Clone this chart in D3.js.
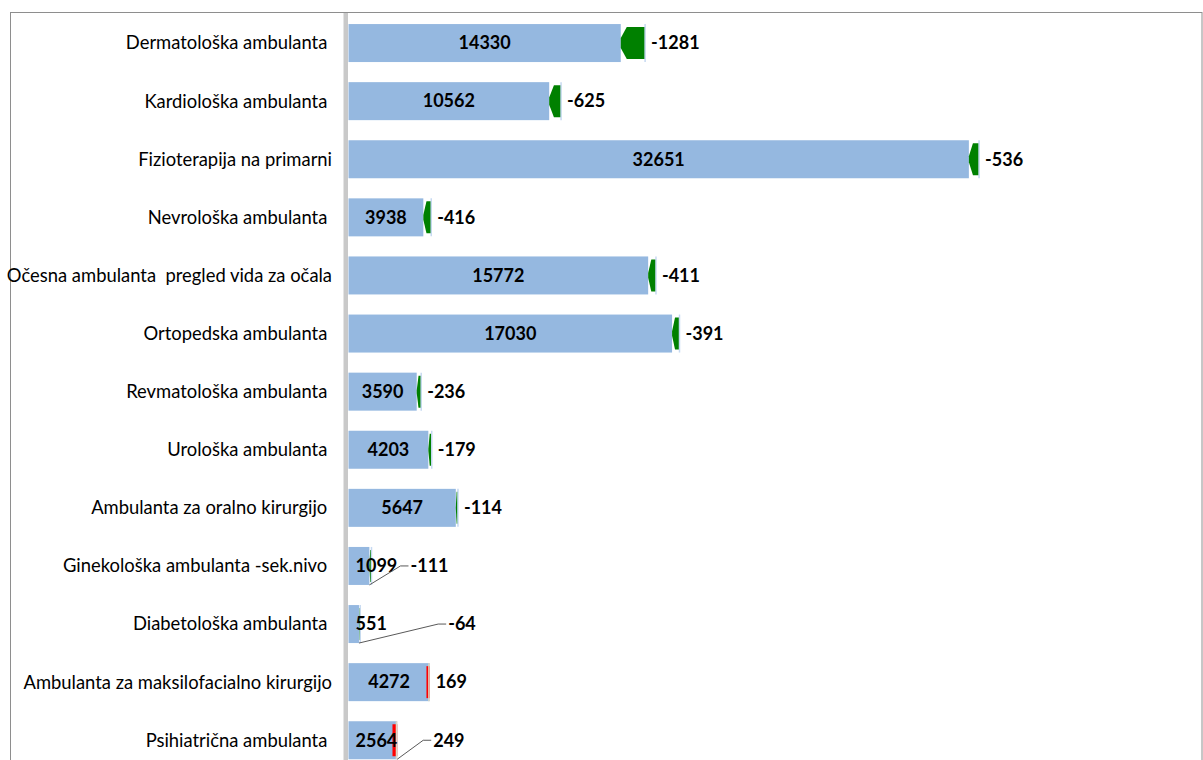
<!DOCTYPE html>
<html>
<head>
<meta charset="utf-8">
<script src="https://cdn.jsdelivr.net/npm/d3@7"></script>
<style>
  html, body { margin: 0; padding: 0; background: #fff; }
  svg { display: block; }
  text { font-family: Lato, "Open Sans", sans-serif; white-space: pre; }
</style>
</head>
<body>
<svg id="chart" width="1203" height="760"></svg>
<script>
// ---- data ----
const categories = [
  "Dermatološka ambulanta ",
  "Kardiološka ambulanta ",
  "Fizioterapija na primarni",
  "Nevrološka ambulanta ",
  "Očesna ambulanta  pregled vida za očala",
  "Ortopedska ambulanta ",
  "Revmatološka ambulanta ",
  "Urološka ambulanta ",
  "Ambulanta za oralno kirurgijo ",
  "Ginekološka ambulanta -sek.nivo ",
  "Diabetološka ambulanta ",
  "Ambulanta za maksilofacialno kirurgijo",
  "Psihiatrična ambulanta "
];
const values  = [14330, 10562, 32651, 3938, 15772, 17030, 3590, 4203, 5647, 1099, 551, 4272, 2564];
const changes = [-1281, -625, -536, -416, -411, -391, -236, -179, -114, -111, -64, 169, 249];

// ---- layout (not data) ----
const W = 1203, H = 760;
const leaderShift = {9: 33, 10: 82, 12: 30}; // displaced change labels with leader lines

const svg = d3.select("#chart");

const x = d3.scaleLinear().domain([0, 40000]).range([348.5, 348.5 + 760]);
const y = d3.scalePoint().domain(d3.range(categories.length)).range([14, 769.3]).padding(0.5);
const barH = 38, inset = 3;

// frame
svg.append("rect")
  .attr("x", 10.5).attr("y", 12.5).attr("width", 1191.5).attr("height", 800)
  .attr("fill", "none").attr("stroke", "#8e8e8e").attr("stroke-width", 1);

// vertical axis line
svg.append("rect")
  .attr("x", 343.5).attr("y", 13).attr("width", 4.5).attr("height", H)
  .attr("fill", "#c9c9c9");

const rows = categories.map((c, i) => ({
  i, cat: c, v: values[i], d: changes[i], prev: values[i] - changes[i]
}));

// category labels
svg.append("g").selectAll("text").data(rows).join("text")
  .attr("x", 332).attr("y", r => y(r.i)).attr("dy", "0.35em")
  .attr("text-anchor", "end").attr("font-size", 18.4).attr("fill", "#000")
  .text(r => r.cat);

// bars
svg.append("g").selectAll("rect").data(rows).join("rect")
  .attr("x", x(0)).attr("y", r => y(r.i) - barH / 2)
  .attr("width", r => x(r.v) - x(0)).attr("height", barH)
  .attr("fill", "#95b8e0");

// change shapes
const g2 = svg.append("g");
rows.forEach(r => {
  const cy = y(r.i), top = cy - barH / 2 + inset, bot = cy + barH / 2 - inset;
  if (r.d < 0) {
    const x1 = x(r.v), x2 = x(r.prev), w = x2 - x1;
    const h = Math.min(6, w * 0.4), k = Math.min(5, w * 0.3);
    g2.append("path")
      .attr("d", `M${x1},${cy - k} L${x1 + h},${top} L${x2},${top} L${x2},${bot} L${x1 + h},${bot} L${x1},${cy + k} Z`)
      .attr("fill", "#008000");
    g2.append("line")
      .attr("x1", x2).attr("x2", x2).attr("y1", cy - barH / 2).attr("y2", cy + barH / 2)
      .attr("stroke", "#c6d9f1").attr("stroke-width", 1.5);
  } else {
    const x1 = x(r.prev), x2 = x(r.v);
    g2.append("rect")
      .attr("x", x1).attr("y", top).attr("width", x2 - x1).attr("height", bot - top)
      .attr("fill", "#ff0000");
    g2.append("line")
      .attr("x1", x2 - 0.75).attr("x2", x2 - 0.75).attr("y1", cy - barH / 2).attr("y2", cy + barH / 2)
      .attr("stroke", "#ddd9c3").attr("stroke-width", 1.5);
  }
});

// value labels
const vl = svg.append("g").selectAll("text").data(rows).join("text")
  .attr("y", r => y(r.i)).attr("dy", "0.35em")
  .attr("text-anchor", "middle").attr("font-size", 18).attr("font-weight", "bold")
  .attr("fill", "#000")
  .text(r => r.v);
vl.each(function(r) {
  const w = this.getComputedTextLength();
  let cx = (x(0) + x(r.v)) / 2;
  if (cx - w / 2 < x(0) + 7) cx = x(0) + 7 + w / 2;
  d3.select(this).attr("x", cx);
});

// change labels (+ leader lines)
const g3 = svg.append("g");
rows.forEach(r => {
  const cy = y(r.i);
  const end = x(Math.max(r.v, r.prev));
  const shift = leaderShift[r.i] || 0;
  const lx = end + 6 + shift;
  if (shift) {
    g3.append("polyline")
      .attr("points", `${x(r.v)},${cy + barH / 2} ${lx - 10},${cy} ${lx - 2},${cy}`)
      .attr("fill", "none").attr("stroke", "#595959").attr("stroke-width", 1);
  }
  g3.append("text")
    .attr("x", lx).attr("y", cy).attr("dy", "0.35em")
    .attr("font-size", 18).attr("font-weight", "bold").attr("fill", "#000")
    .text(r.d);
});
</script>
</body>
</html>
